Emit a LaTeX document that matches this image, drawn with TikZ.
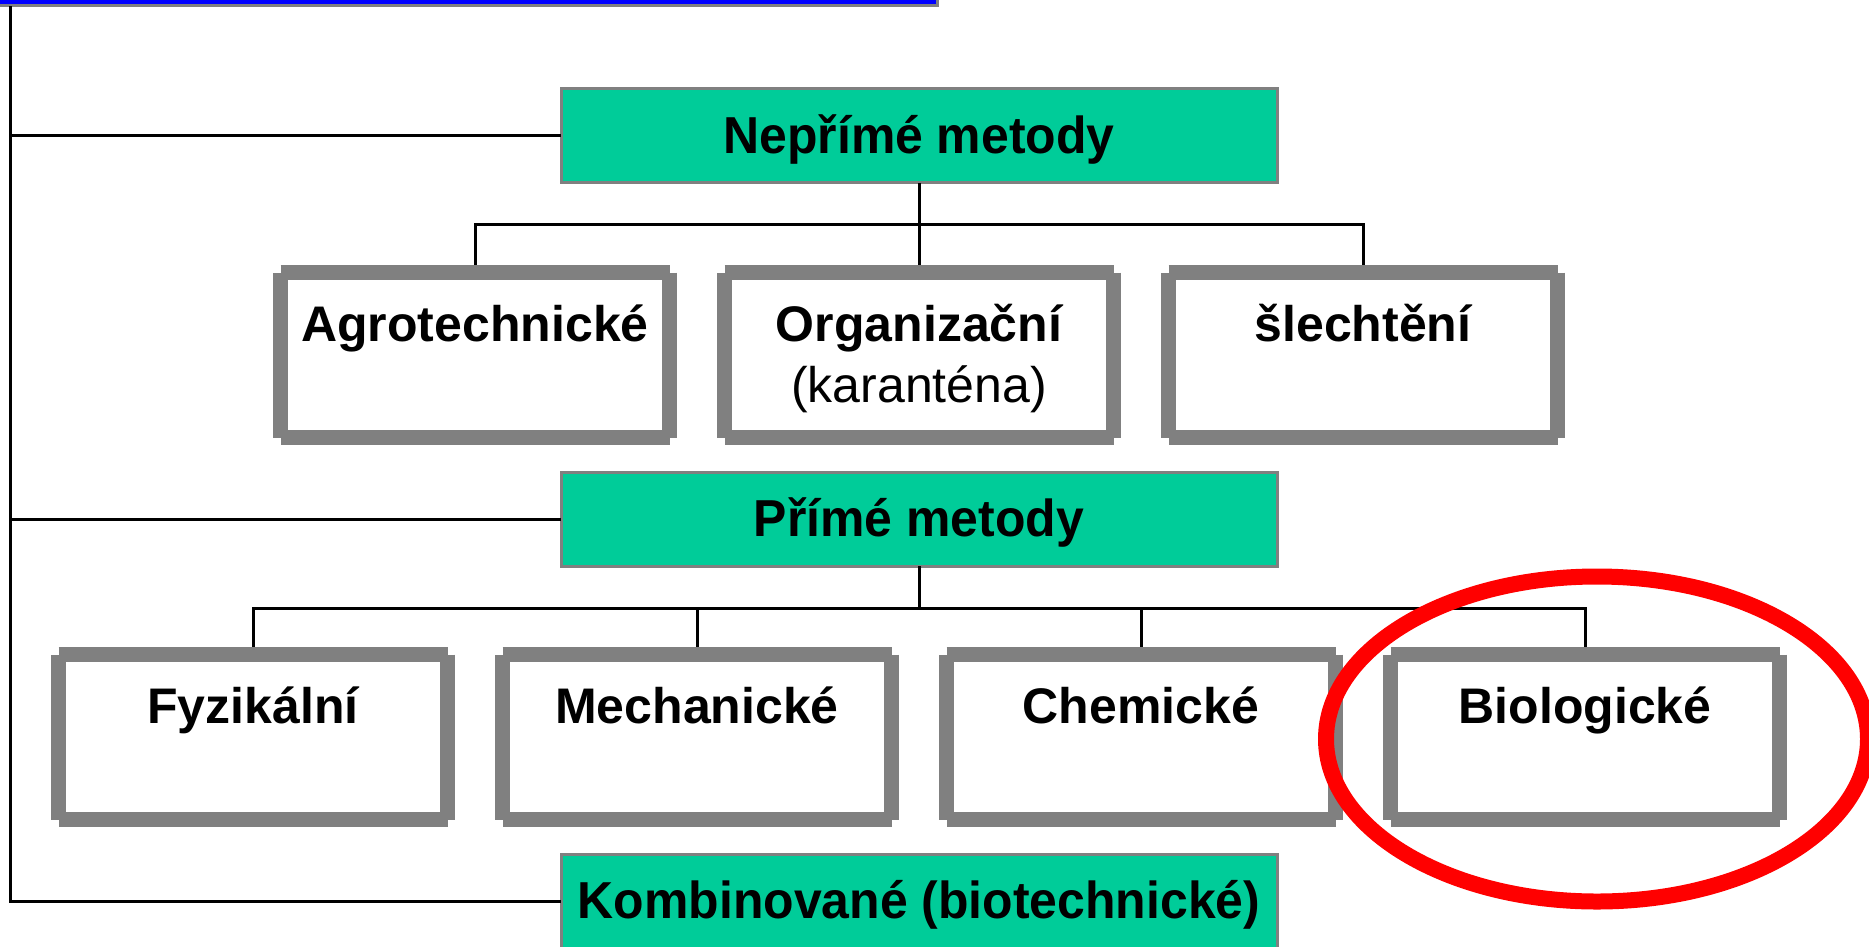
\documentclass[tikz,border=0pt]{standalone}
\usepackage{fontspec}
\setmainfont{Liberation Sans}
\newfontfamily\headfont[FakeStretch=0.96]{Liberation Sans}
\usetikzlibrary{positioning}
\definecolor{headgreen}{HTML}{00CC99}
\definecolor{framegray}{HTML}{808080}
\definecolor{titleblue}{HTML}{0000FF}
\tikzstyle{head} = [rectangle, 
			draw = framegray, 
			line width = 3pt, 
			fill = headgreen, 
			inner sep = 0pt, 
			outer sep = 0pt, 
			minimum width = 716pt, 
			minimum height = 94pt, 
			text height = 64.5pt, 
			text depth = 29.5pt, 
			font = \headfont\fontsize{52}{60}\selectfont\bfseries]
\tikzstyle{block} = [rectangle, 
			inner sep = 0pt, 
			outer sep = 0pt, 
			minimum width = 389pt, 
			minimum height = 165pt, 
			text height = 69pt, 
			text depth = 96pt, 
			font = \fontsize{50}{61}\selectfont\bfseries]
\tikzstyle{frame} = [draw = framegray, line width = 15pt]
\tikzstyle{wire} = [draw, line width = 3pt]

\begin{document}
\begin{tikzpicture}[x = 1pt, y = -1pt, node distance = 55pt]
	\useasboundingbox (0,0) rectangle (1869,946);
	\clip (0,0) rectangle (1869,946);
	\draw [fill = titleblue, draw = framegray, line width = 3pt] (-20,-20) rectangle (937,5.5);
	\node [head] (nep) at (919,135.5) {Nepřímé metody};
	\node [block, below=90pt of nep] (organ) {\begin{tabular}[t]{@{}c@{}}Organizační\\\mdseries(karanténa)\end{tabular}};
	\node [block, left=of organ] (agro) {Agrotechnické};
	\node [block, right=of organ] (slecht) {šlechtění};
	\node [head, below=34.5pt of organ] (prime) {Přímé metody};
	\node [block, below=88.5pt of prime, xshift=-222pt] (mech) {Mechanické};
	\node [block, left=of mech] (fyz) {Fyzikální};
	\node [block, right=of mech] (chem) {Chemické};
	\node [block, right=of chem] (bio) {Biologické};
	\node [head] (komb) at (919,901) {Kombinované (biotechnické)};
	% spine on the left
	\coordinate (spine) at (10,6);
	\draw [wire] (spine) -- (spine |- komb.west) -- (komb.west);
	\draw [wire] (nep.west -| spine) -- (nep.west);
	\draw [wire] (prime.west -| spine) -- (prime.west);
	% trees
	\coordinate (bus1) at (919,224);
	\coordinate (bus2) at (919,608);
	\draw [wire] (nep.south) -- (organ.north);
	\draw [wire] (agro.north) |- (bus1) -| (slecht.north);
	\draw [wire] (prime.south) -- (bus2);
	\draw [wire] (fyz.north) |- (bus2) -| (bio.north);
	\draw [wire] (mech.north) -- (mech.north |- bus2);
	\draw [wire] (chem.north) -- (chem.north |- bus2);
	\foreach \n in {agro, organ, slecht, fyz, mech, chem, bio}
		\draw [frame] (\n.north west) -- (\n.north east) (\n.south west) -- (\n.south east)
			(\n.north west) -- (\n.south west) (\n.north east) -- (\n.south east);
	\draw [red, line width = 16pt] (1597,739) ellipse [x radius = 271pt, y radius = 162.5pt];
\end{tikzpicture}
\end{document}
